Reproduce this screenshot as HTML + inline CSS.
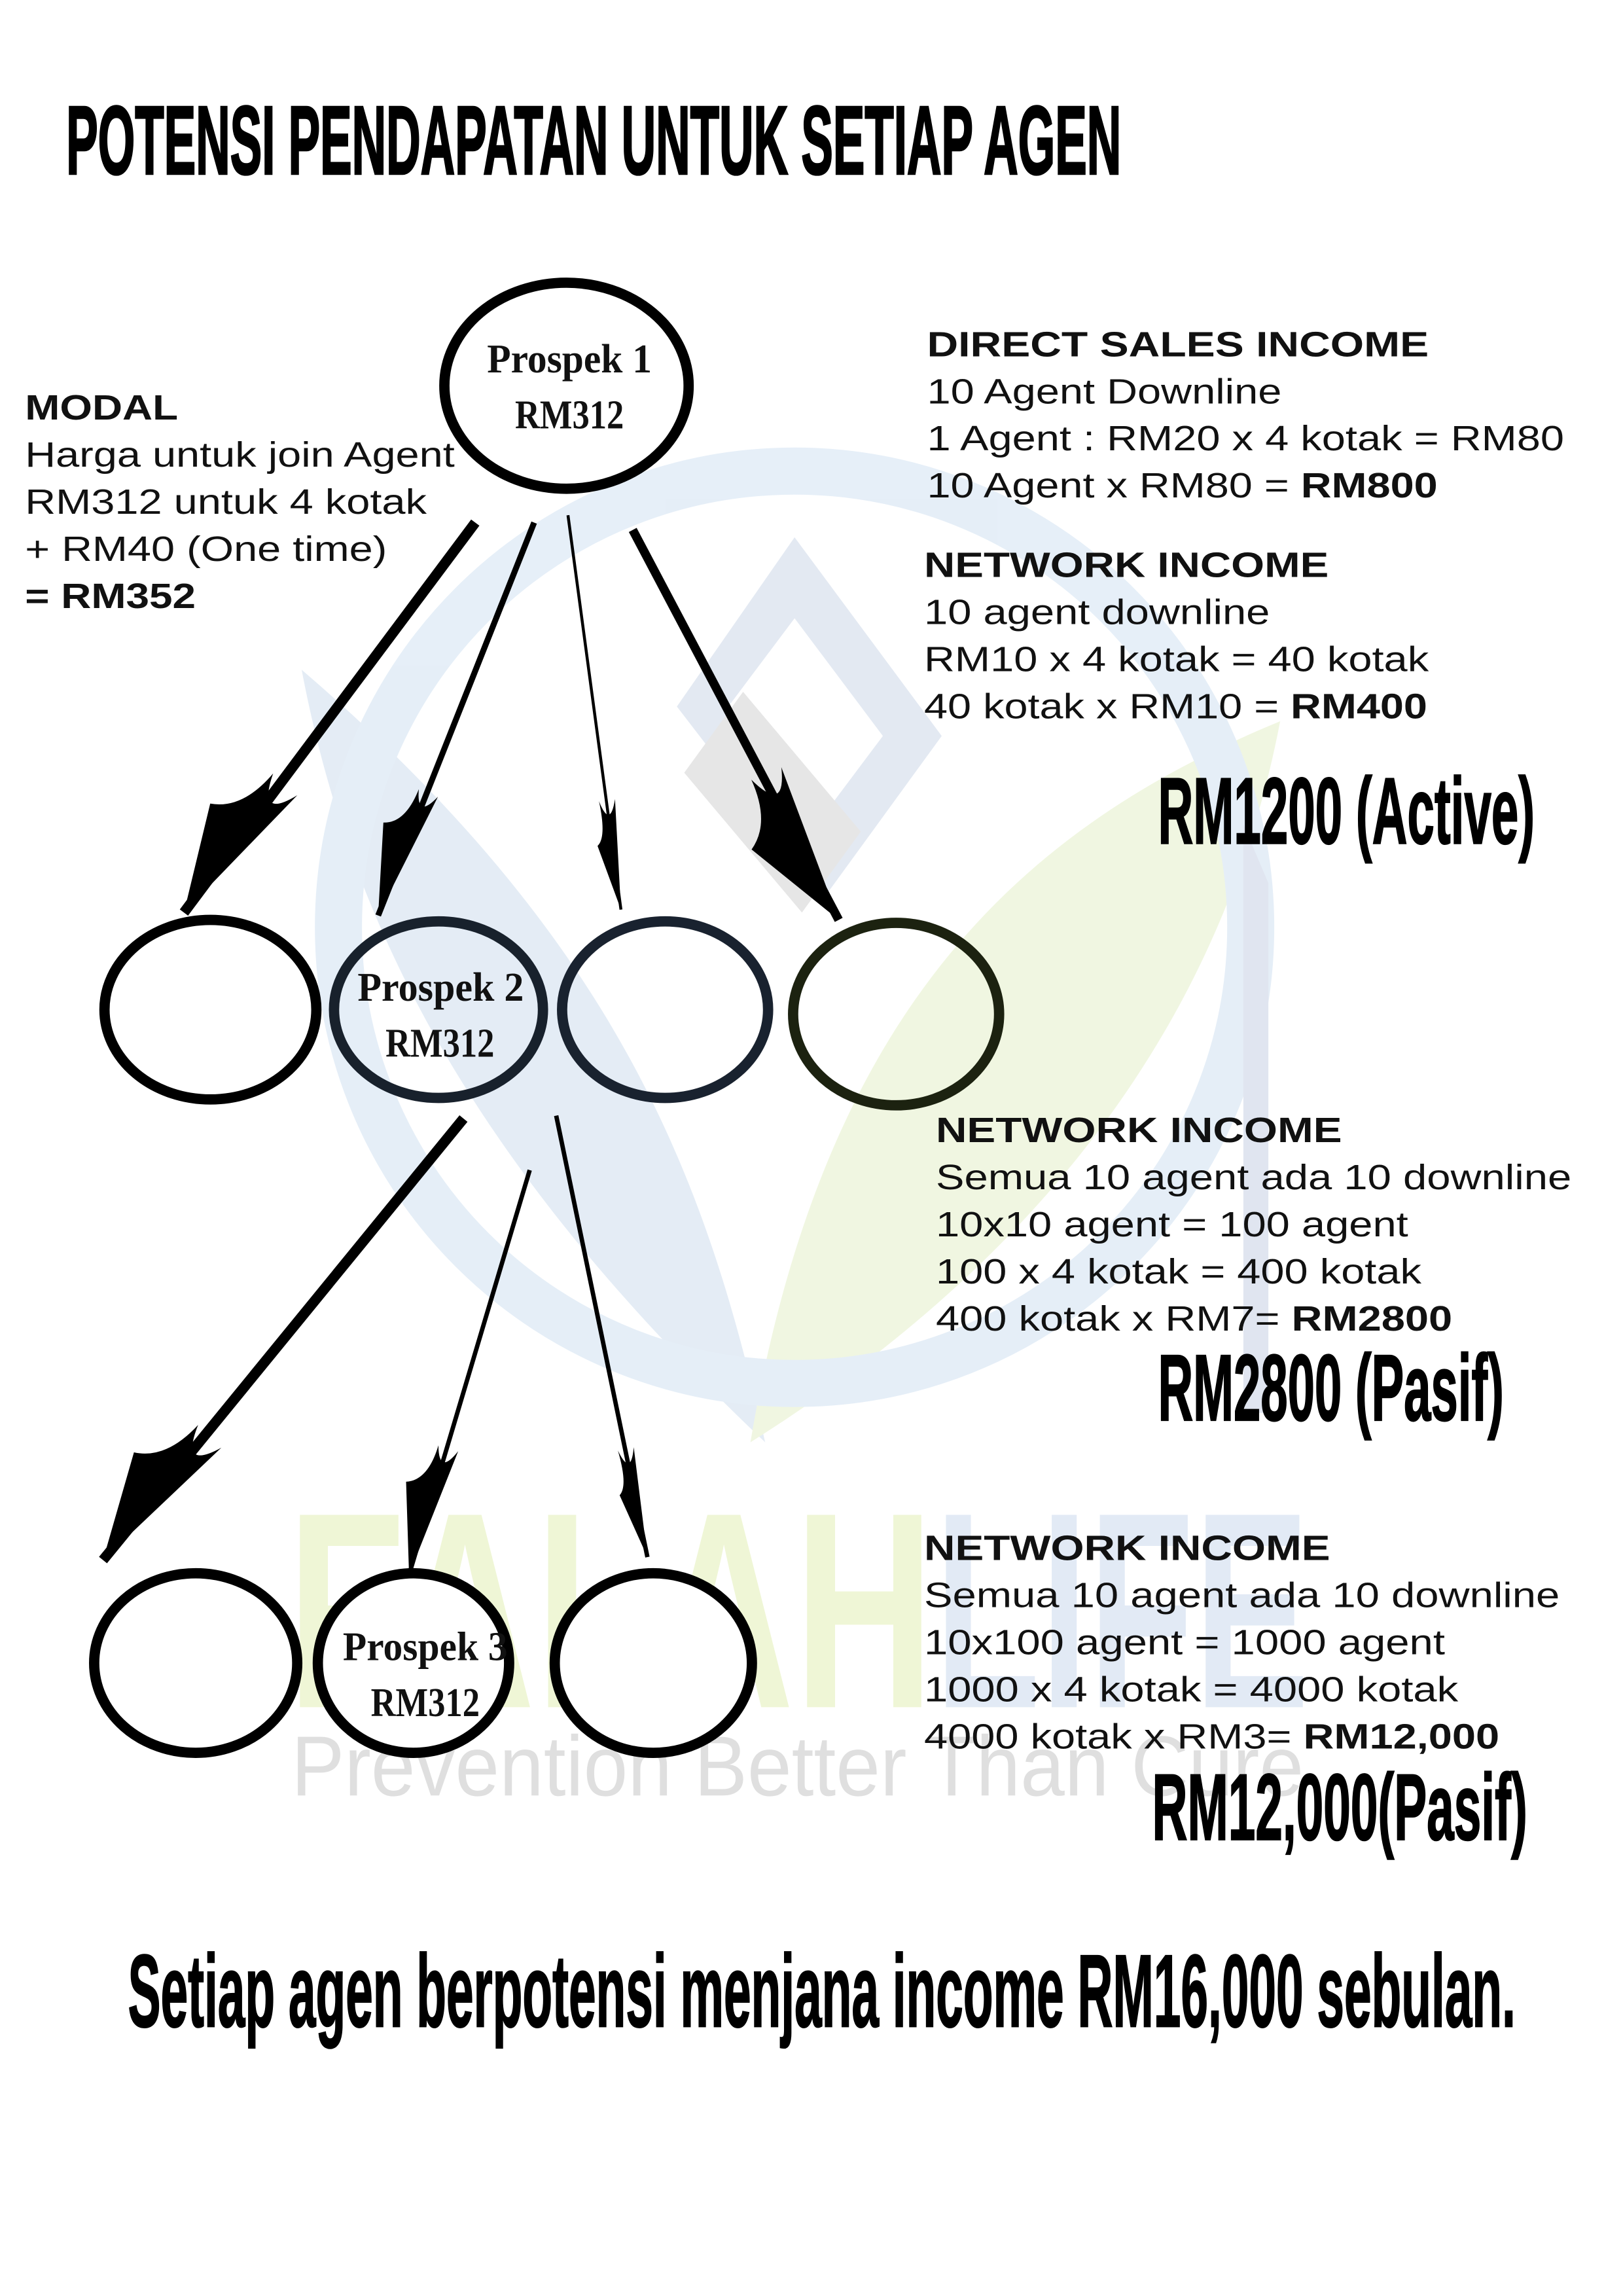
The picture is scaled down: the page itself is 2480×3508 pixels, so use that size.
<!DOCTYPE html>
<html><head><meta charset="utf-8"><style>
html,body{margin:0;padding:0;background:#fff}
svg{display:block}
.s{font-family:"Liberation Sans",sans-serif;font-size:24px;fill:#111}
.b{font-weight:bold}
.c{font-family:"Liberation Sans",sans-serif;font-weight:bold;fill:#000}
.p{font-family:"Liberation Serif",serif;font-weight:bold;font-size:28px;fill:#111}
</style></head><body>
<svg width="2480" height="3508" viewBox="0 0 1103 1560" xmlns="http://www.w3.org/2000/svg">
<defs>
<marker id="hb" markerUnits="userSpaceOnUse" markerWidth="240" markerHeight="240" refX="0" refY="0" viewBox="-120 -120 240 240" orient="auto" overflow="visible">
<path d="M0 0 L-110 -14 Q-80 -2 -112 8 Q-80 10 -70 30 Z" fill="#000"/>
</marker>
<marker id="hm" markerUnits="userSpaceOnUse" markerWidth="240" markerHeight="240" refX="0" refY="0" viewBox="-120 -120 240 240" orient="auto" overflow="visible">
<path d="M0 0 L-90 -8 Q-70 0 -90 6 Q-65 6 -60 20 Z" fill="#000"/>
</marker>
<marker id="hs" markerUnits="userSpaceOnUse" markerWidth="240" markerHeight="240" refX="0" refY="0" viewBox="-120 -120 240 240" orient="auto" overflow="visible">
<path d="M0 0 L-75 -6 Q-55 0 -75 5 Q-50 3 -45 10 Z" fill="#000"/>
</marker>
</defs>

<!-- watermark -->
<g opacity="0.9">
<path d="M205 455 C240 640 330 800 520 980 C480 800 420 640 205 455 Z" fill="#e2ebf5"/>
<path d="M870 490 C700 560 560 680 510 980 C700 860 830 700 870 490 Z" fill="#eff6de"/>
<circle cx="540" cy="630" r="310" fill="none" stroke="#e3edf7" stroke-width="32"/>
<path d="M845 560 L862 600 L862 960 L845 960 Z" fill="#dde3ef"/>
<path d="M540 365 L640 500 L560 610 L460 480 Z" fill="#e1e7f1"/>
<path d="M540 420 L600 500 L555 560 L495 480 Z" fill="#fff"/>
<path d="M505 470 L585 565 L545 620 L465 525 Z" fill="#e4e4e4"/>
<text x="195" y="1160" font-family="Liberation Sans,sans-serif" font-weight="bold" font-size="190" fill="#eef6d2" textLength="440" lengthAdjust="spacingAndGlyphs">FALAH</text>
<text x="635" y="1160" font-family="Liberation Sans,sans-serif" font-weight="bold" font-size="190" fill="#dfe8f4" textLength="255" lengthAdjust="spacingAndGlyphs">LIFE</text>
<text x="198" y="1220" font-family="Liberation Sans,sans-serif" font-size="58" fill="#dcdcdc" textLength="688" lengthAdjust="spacingAndGlyphs">Prevention Better Than Cure</text>
</g>

<!-- title -->
<text class="c" x="45" y="118" font-size="66" stroke="#000" stroke-width="1.5" textLength="717" lengthAdjust="spacingAndGlyphs">POTENSI PENDAPATAN UNTUK SETIAP AGEN</text>

<!-- modal -->
<text class="s b" x="17" y="285" textLength="104" lengthAdjust="spacingAndGlyphs">MODAL</text>
<text class="s" x="17" y="317" textLength="292" lengthAdjust="spacingAndGlyphs">Harga untuk join Agent</text>
<text class="s" x="17" y="349" textLength="273" lengthAdjust="spacingAndGlyphs">RM312 untuk 4 kotak</text>
<text class="s" x="17" y="381" textLength="246" lengthAdjust="spacingAndGlyphs">+ RM40 (One time)</text>
<text class="s b" x="17" y="413" textLength="116" lengthAdjust="spacingAndGlyphs">= RM352</text>

<!-- right block 1 -->
<text class="s b" x="630" y="242" textLength="341" lengthAdjust="spacingAndGlyphs">DIRECT SALES INCOME</text>
<text class="s" x="630" y="274" textLength="241" lengthAdjust="spacingAndGlyphs">10 Agent Downline</text>
<text class="s" x="630" y="306" textLength="433" lengthAdjust="spacingAndGlyphs">1 Agent : RM20 x 4 kotak = RM80</text>
<text class="s" x="630" y="338" textLength="347" lengthAdjust="spacingAndGlyphs">10 Agent x RM80 = <tspan class="b">RM800</tspan></text>
<text class="s b" x="628" y="392" textLength="275" lengthAdjust="spacingAndGlyphs">NETWORK INCOME</text>
<text class="s" x="628" y="424" textLength="235" lengthAdjust="spacingAndGlyphs">10 agent downline</text>
<text class="s" x="628" y="456" textLength="343" lengthAdjust="spacingAndGlyphs">RM10 x 4 kotak = 40 kotak</text>
<text class="s" x="628" y="488" textLength="342" lengthAdjust="spacingAndGlyphs">40 kotak x RM10 = <tspan class="b">RM400</tspan></text>
<text class="c" x="787" y="573" font-size="64" stroke="#000" stroke-width="1" textLength="256" lengthAdjust="spacingAndGlyphs">RM1200 (Active)</text>

<!-- block 2 -->
<text class="s b" x="636" y="776" textLength="276" lengthAdjust="spacingAndGlyphs">NETWORK INCOME</text>
<text class="s" x="636" y="808" textLength="432" lengthAdjust="spacingAndGlyphs">Semua 10 agent ada 10 downline</text>
<text class="s" x="636" y="840" textLength="321" lengthAdjust="spacingAndGlyphs">10x10 agent = 100 agent</text>
<text class="s" x="636" y="872" textLength="330" lengthAdjust="spacingAndGlyphs">100 x 4 kotak = 400 kotak</text>
<text class="s" x="636" y="904" textLength="351" lengthAdjust="spacingAndGlyphs">400 kotak x RM7= <tspan class="b">RM2800</tspan></text>
<text class="c" x="787" y="965" font-size="64" stroke="#000" stroke-width="1" textLength="235" lengthAdjust="spacingAndGlyphs">RM2800 (Pasif)</text>

<!-- block 3 -->
<text class="s b" x="628" y="1060" textLength="276" lengthAdjust="spacingAndGlyphs">NETWORK INCOME</text>
<text class="s" x="628" y="1092" textLength="432" lengthAdjust="spacingAndGlyphs">Semua 10 agent ada 10 downline</text>
<text class="s" x="628" y="1124" textLength="354" lengthAdjust="spacingAndGlyphs">10x100 agent = 1000 agent</text>
<text class="s" x="628" y="1156" textLength="363" lengthAdjust="spacingAndGlyphs">1000 x 4 kotak = 4000 kotak</text>
<text class="s" x="628" y="1188" textLength="391" lengthAdjust="spacingAndGlyphs">4000 kotak x RM3= <tspan class="b">RM12,000</tspan></text>
<text class="c" x="783" y="1250" font-size="64" stroke="#000" stroke-width="1" textLength="255" lengthAdjust="spacingAndGlyphs">RM12,000(Pasif)</text>

<!-- bottom -->
<text class="c" x="87" y="1377" font-size="70" stroke="#000" stroke-width="1" textLength="943" lengthAdjust="spacingAndGlyphs">Setiap agen berpotensi menjana income RM16,000 sebulan.</text>

<!-- nodes -->
<ellipse cx="385" cy="262" rx="83" ry="70" fill="#fff" stroke="#000" stroke-width="7"/>
<text class="p" x="331" y="253" textLength="112" lengthAdjust="spacingAndGlyphs">Prospek 1</text>
<text class="p" x="350" y="291" textLength="74" lengthAdjust="spacingAndGlyphs">RM312</text>

<ellipse cx="143" cy="686" rx="72" ry="61" fill="#fff" stroke="#000" stroke-width="7"/>
<ellipse cx="298" cy="686" rx="71" ry="60" fill="none" stroke="#18212c" stroke-width="7"/>
<ellipse cx="452" cy="686" rx="70" ry="60" fill="none" stroke="#19222f" stroke-width="7"/>
<ellipse cx="609" cy="689" rx="70" ry="62" fill="none" stroke="#1c2210" stroke-width="7"/>
<text class="p" x="243" y="680" textLength="113" lengthAdjust="spacingAndGlyphs">Prospek 2</text>
<text class="p" x="262" y="718" textLength="74" lengthAdjust="spacingAndGlyphs">RM312</text>

<ellipse cx="133" cy="1130" rx="69" ry="61" fill="#fff" stroke="#000" stroke-width="7"/>
<ellipse cx="281" cy="1130" rx="65" ry="61" fill="#fff" stroke="#000" stroke-width="7"/>
<ellipse cx="444" cy="1130" rx="67" ry="61" fill="#fff" stroke="#000" stroke-width="7"/>
<text class="p" x="233" y="1128" textLength="112" lengthAdjust="spacingAndGlyphs">Prospek 3</text>
<text class="p" x="252" y="1166" textLength="74" lengthAdjust="spacingAndGlyphs">RM312</text>

<!-- arrows -->
<g fill="none" stroke="#000">
<line x1="323" y1="355" x2="125" y2="620" stroke-width="7" marker-end="url(#hb)"/>
<line x1="363" y1="355" x2="257" y2="622" stroke-width="4" marker-end="url(#hm)"/>
<line x1="386" y1="350" x2="422" y2="618" stroke-width="2" marker-end="url(#hs)"/>
<line x1="430" y1="360" x2="570" y2="625" stroke-width="6" marker-end="url(#hb)"/>
<line x1="315" y1="760" x2="70" y2="1060" stroke-width="7" marker-end="url(#hb)"/>
<line x1="360" y1="795" x2="278" y2="1070" stroke-width="3" marker-end="url(#hm)"/>
<line x1="378" y1="758" x2="440" y2="1058" stroke-width="3" marker-end="url(#hs)"/>
</g>
</svg>
</body></html>
